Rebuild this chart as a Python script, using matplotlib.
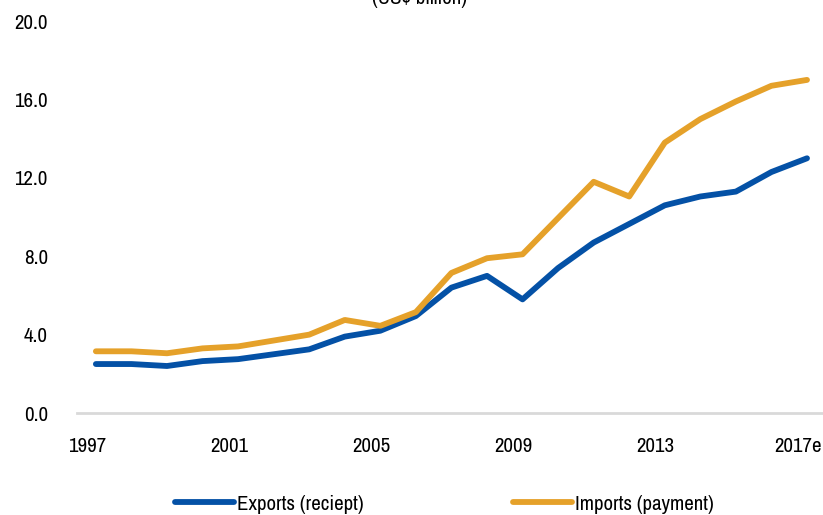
import matplotlib.pyplot as plt
from matplotlib import transforms

plt.rcParams['font.family'] = ['Archivo Narrow', 'Roboto Condensed', 'DejaVu Sans']

# Data (US$ billion)
years = list(range(1997, 2018))
exports = [2.5, 2.5, 2.4, 2.65, 2.75, 3.0, 3.25, 3.9, 4.2, 4.95, 6.4,
           7.0, 5.8, 7.4, 8.7, 9.65, 10.6, 11.05, 11.3, 12.3, 13.0]
imports = [3.15, 3.15, 3.05, 3.3, 3.4, 3.7, 4.0, 4.75, 4.45, 5.15, 7.15,
           7.9, 8.1, 9.95, 11.8, 11.05, 13.8, 15.0, 15.9, 16.7, 17.0]
tick_years = [1997, 2001, 2005, 2009, 2013, 2017]
tick_labels = ['1997', '2001', '2005', '2009', '2013', '2017e']
y_ticks = [0, 4, 8, 12, 16, 20]

blue = '#0451a6'
gold = '#e5a12a'
fs = 15

fig = plt.figure(figsize=(8.23, 5.15), dpi=100)
ax = fig.add_axes([0.0936, 0.198, 0.9064, 0.761])

ax.plot(years, exports, color=blue, lw=4.2, solid_capstyle='round',
        solid_joinstyle='round', label='Exports (reciept)')
ax.plot(years, imports, color=gold, lw=4.2, solid_capstyle='round',
        solid_joinstyle='round', label='Imports (payment)')

ax.set_xlim(1996.47, 2017.45)
ax.set_ylim(0, 20)
ax.set_xticks(tick_years)
ax.set_xticklabels(tick_labels, fontsize=fs)
ax.set_yticks(y_ticks)
ax.set_yticklabels([f'{v:.1f}' for v in y_ticks], fontsize=fs)
ax.tick_params(axis='x', length=0, pad=17)
ax.tick_params(axis='y', length=0, pad=21)

# shift x labels slightly left like the original
offset = transforms.ScaledTranslation(-9 / 100, 0, fig.dpi_scale_trans)
for lab in ax.get_xticklabels():
    lab.set_transform(lab.get_transform() + offset)

for s in ['top', 'right', 'left']:
    ax.spines[s].set_visible(False)
ax.spines['bottom'].set_color('#d9d9d9')
ax.spines['bottom'].set_linewidth(2)

fig.text(0.51, 1 - 4 / 515, '(US$ billion)', ha='center', va='baseline', fontsize=fs)

fig.legend(loc='center', bbox_to_anchor=(0.54, 0.021), ncol=2, frameon=False,
           fontsize=fs, handlelength=2.8, handletextpad=0.15, columnspacing=7.2)

fig.savefig('out.png', dpi=100)
